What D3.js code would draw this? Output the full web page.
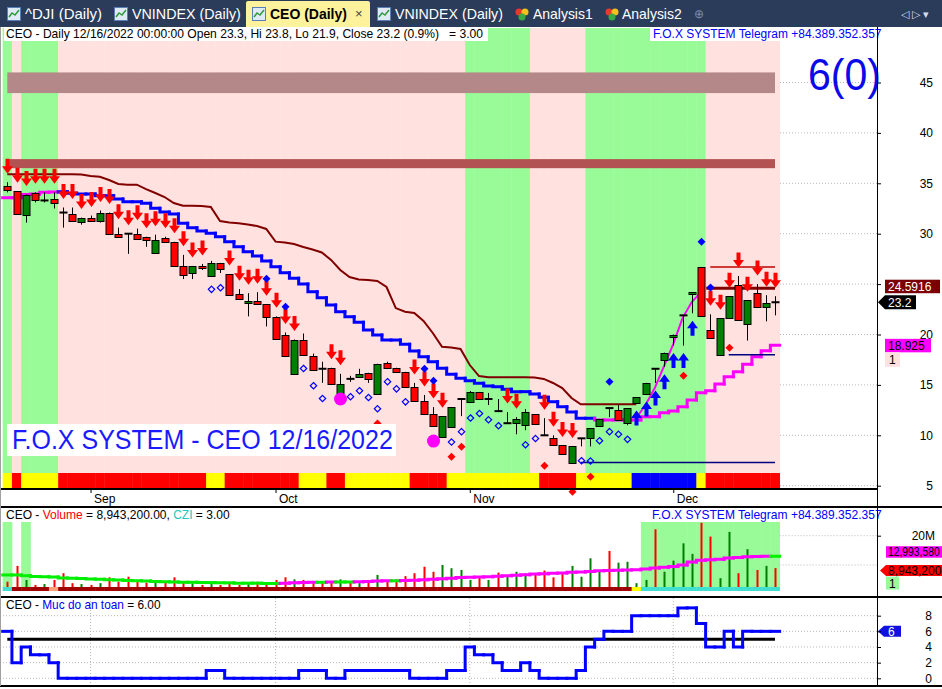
<!DOCTYPE html>
<html>
<head>
<meta charset="utf-8">
<script src="https://cdn.jsdelivr.net/npm/d3@7"></script>
<style>
  body { margin: 0; background: #fff; }
  svg { display: block; font-family: "Liberation Sans", Arial, sans-serif; }
  text { white-space: pre; }
</style>
</head>
<body>
<svg></svg>
<script>
var dates = [
  '2022-08-19','2022-08-22','2022-08-23','2022-08-24','2022-08-25','2022-08-26','2022-08-29','2022-08-30','2022-08-31',
  '2022-09-05','2022-09-06','2022-09-07','2022-09-08','2022-09-09','2022-09-12','2022-09-13','2022-09-14','2022-09-15','2022-09-16',
  '2022-09-19','2022-09-20','2022-09-21','2022-09-22','2022-09-23','2022-09-26','2022-09-27','2022-09-28','2022-09-29','2022-09-30',
  '2022-10-03','2022-10-04','2022-10-05','2022-10-06','2022-10-07','2022-10-10','2022-10-11','2022-10-12','2022-10-13','2022-10-14',
  '2022-10-17','2022-10-18','2022-10-19','2022-10-20','2022-10-21','2022-10-24','2022-10-25','2022-10-26','2022-10-27','2022-10-28','2022-10-31',
  '2022-11-01','2022-11-02','2022-11-03','2022-11-04','2022-11-07','2022-11-08','2022-11-09','2022-11-10','2022-11-11',
  '2022-11-14','2022-11-15','2022-11-16','2022-11-17','2022-11-18','2022-11-21','2022-11-22','2022-11-23','2022-11-24','2022-11-25',
  '2022-11-28','2022-11-29','2022-11-30',
  '2022-12-01','2022-12-02','2022-12-05','2022-12-06','2022-12-07','2022-12-08','2022-12-09','2022-12-12','2022-12-13','2022-12-14',
  '2022-12-15','2022-12-16'
];
var monthTicks = ['2022-09-05', '2022-10-03', '2022-11-01', '2022-12-01'];

var opens = [34.7,34.2,31.9,34.0,33.3,33.4,32.1,32.0,31.2,31.6,
  31.3,32.1,30.0,30.0,30.0,29.7,28.1,29.6,29.2,26.8,
  26.1,26.8,25.8,27.1,26.0,24.0,23.1,23.3,23.0,21.7,
  20.0,16.1,19.5,17.9,16.6,16.7,14.2,15.6,15.8,16.2,
  14.1,17.2,16.7,16.3,14.8,13.4,12.1,9.8,10.8,13.6,
  13.3,14.3,13.6,12.4,11.2,11.2,11.0,12.1,10.0,9.7,
  9.0,7.3,9.7,9.7,10.9,12.7,12.5,11.2,13.2,14.1,
  16.6,17.5,19.8,21.9,24.0,26.7,20.4,18.0,21.6,24.9,
  21.0,24.1,22.7,23.3];
var highs = [35.1,34.2,33.9,34.1,34.1,34.1,32.6,32.6,31.6,31.8,
  32.3,32.1,30.6,30.0,30.5,29.7,29.9,29.7,29.2,27.9,
  26.8,27.0,27.3,27.1,26.0,24.5,24.1,24.2,23.0,21.8,
  20.2,19.5,20.1,18.1,17.3,16.7,16.1,15.9,16.6,16.2,
  17.1,17.3,16.7,16.3,15.2,14.0,12.8,11.9,12.8,13.6,
  14.4,14.3,14.2,13.6,12.3,11.8,12.6,12.1,11.7,10.0,
  9.0,8.9,9.7,10.7,11.6,12.7,13.0,12.7,13.8,15.2,
  16.6,18.2,20.0,21.9,24.2,26.7,22.0,21.6,23.8,25.8,
  23.4,25.0,23.9,23.8];
var lows = [34.1,31.9,31.1,33.1,33.1,32.5,30.6,31.3,30.9,31.3,
  31.1,30.0,29.7,28.0,29.5,28.7,28.1,29.2,26.8,25.5,
  25.5,26.4,25.8,26.1,23.9,23.5,21.8,23.0,20.8,19.6,
  17.9,16.1,18.0,16.5,15.2,15.1,14.2,15.3,15.8,15.2,
  14.1,16.7,16.2,14.8,13.4,12.1,10.9,9.8,10.8,11.9,
  13.2,13.6,13.0,12.4,11.2,10.1,10.5,11.1,10.0,9.0,
  8.1,7.3,8.9,8.9,10.9,11.8,11.5,11.0,13.2,14.1,
  15.2,16.8,18.9,18.9,22.1,21.8,19.7,18.0,21.6,21.4,
  19.4,22.7,21.3,21.9];
var closes = [34.3,32.0,33.8,33.3,33.3,33.0,32.1,31.3,31.6,31.3,
  32.1,30.0,29.7,30.0,29.5,29.4,29.4,29.2,26.8,25.9,
  26.8,26.6,27.1,26.5,23.9,23.5,23.3,23.0,21.7,19.6,
  17.9,19.5,18.0,16.5,16.6,15.1,15.1,15.6,16.1,15.6,
  17.1,16.7,16.3,14.8,13.4,12.1,10.9,11.9,12.8,13.6,
  14.3,13.6,13.6,12.4,11.2,11.6,12.3,11.1,10.0,9.0,
  8.1,8.9,9.7,10.7,11.6,12.7,11.5,12.7,13.8,15.2,
  16.6,18.2,20.0,21.9,24.2,21.8,19.7,21.6,23.8,21.4,
  23.4,22.7,23.1,23.2];

// volume in millions
var volume = [4.3,9.7,4.9,3.2,3.5,4.9,7.2,3.8,3.5,3.2,
  3.8,5.8,4.3,6.0,4.6,4.0,4.6,4.3,5.8,4.3,
  3.8,3.2,3.5,3.2,4.3,3.2,3.8,4.3,4.0,4.9,
  5.8,5.1,4.9,4.3,4.3,4.3,5.1,4.3,3.8,4.9,
  6.6,4.3,5.1,6.2,7.2,9.4,7.7,10.0,8.9,8.3,
  4.9,6.2,4.9,7.4,6.2,7.7,7.2,6.6,8.1,5.8,
  7.4,9.7,6.0,12.3,8.3,14.8,10.8,11.1,3.8,4.9,
  22.2,7.7,11.5,17.4,13.8,24.4,19.7,5.5,21.3,7.2,
  15.4,8.3,9.7,8.9432];
var volDir = ('rrgrgrrrgr' + 'grrrrrgrrr' + 'grgrrrgrrr' + 'rgrrrrgrgr' + 'grrrrrrggg' +
  'grgrgggrrr' + 'rggggrgggg' + 'rggggrrggr' + 'grgr').split('');
var volMA = [6.6,6.6,6.3,6.1,6.0,5.9,5.6,5.5,5.4,5.2,
  5.1,5.0,4.9,4.7,4.6,4.5,4.4,4.3,4.2,4.1,
  4.1,4.0,4.0,3.9,3.9,3.8,3.8,3.8,3.7,3.7,
  3.8,3.9,4.0,4.1,4.1,4.2,4.2,4.2,4.3,4.4,
  4.5,4.6,4.6,4.7,4.8,5.0,5.1,5.3,5.5,5.7,
  5.8,5.9,6.0,6.2,6.3,6.5,6.7,6.9,7.0,7.2,
  7.3,7.5,7.6,7.8,8.0,8.1,8.2,8.3,8.4,8.6,
  9.0,9.2,9.5,10.0,11.0,11.6,11.8,12.0,12.4,12.6,
  12.8,12.9,13.0,12.99358];

var zoneMain = [1,0,1,1,1,1,0,0,0,0, 0,0,0,0,0,0,0,0,0,0, 0,0,0,0,0,0,0,0,0,0,
  0,0,0,0,0,0,0,0,0,0, 0,0,0,0,0,0,0,0,0,0, 1,1,1,1,1,1,1,0,0,0,
  0,0,0,1,1,1,1,1,1,1, 1,1,1,1,1,1,0,0,0,0, 0,0,0,0];
var zoneVol = [1,0,1,0,0,0,0,0,0,0, 0,0,0,0,0,0,0,0,0,0, 0,0,0,0,0,0,0,0,0,0,
  0,0,0,0,0,0,0,0,0,0, 0,0,0,0,0,0,0,0,0,0, 0,0,0,0,0,0,0,0,0,0,
  0,0,0,0,0,0,0,0,0,1, 1,1,1,1,1,1,1,1,1,1, 1,1,1,1];
var strip = ('yryyyyrrrr' + 'rrrrrrrrrr' + 'rryyrrrrrr' + 'rryyyrryyy' + 'yyyyrrrryy' +
  'yyyyyyyyrr' + 'rryyyyyybb' + 'bbbbbyrrrr' + 'rrrr').split('');
var czi = ('cmmmmommmm' + 'mmmmmmmmmm' + 'mmmmmmmmmm' + 'mmmmmmmmmm' + 'mmmmmmmmmm' +
  'mmmmmmmmmm' + 'mmmmmmmmyc' + 'cccccccccc' + 'cccc').split('');

var trail = [35.89,35.89,35.89,35.89,35.89,35.89,35.89,35.89,35.87,35.72,
  35.65,35.33,34.93,34.86,34.86,34.43,34.04,33.64,33.04,32.78,
  32.78,32.75,32.65,31.26,31.11,31.03,30.91,30.76,30.47,29.21,
  29.13,28.98,28.68,28.43,28.14,27.4,26.4,25.7,25.46,25.41,
  25.31,24.71,22.62,22.26,22.13,21.34,20.15,18.79,18.71,18.56,
  16.97,15.88,15.75,15.75,15.75,15.75,15.75,15.73,15.59,15.19,
  14.69,13.7,13.07,13.07,13.07,13.07,13.07,13.07,13.07,null,
  null,null,null,null,null,null,24.5916,24.5916,24.5916,24.5916,
  24.5916,24.5916,24.5916,24.5916];
var stair = [33.57,33.57,33.9,33.94,34.1,34.13,34.17,34.01,33.94,33.94,
  33.77,33.77,33.44,33.17,33.17,33.02,32.52,32.15,31.95,31.03,
  30.6,30.27,30.04,29.7,29.21,28.71,28.21,27.79,27.29,26.73,
  26.13,25.58,25.01,24.25,23.65,22.93,22.26,21.77,21.21,20.45,
  19.95,19.45,19.45,19.03,18.36,17.8,17.3,16.65,16.05,15.66,
  15.42,15.16,14.89,14.82,14.56,14.33,14.33,14.1,13.77,13.33,
  12.84,12.31,11.69,11.69,11.52,11.52,11.52,11.52,11.52,11.85,
  11.85,12.24,12.41,12.84,13.5,14.23,14.42,15.09,15.81,16.31,
  17.04,17.8,18.39,18.925];
var stairColor = ('mmmmmm' + 'bbbbbbbbbbbbbbbbbbbbbbbbbbbbbbbbbbbbbbbbbbbbbbbbbbbbbbbbbb' + 'mmmmmmmmmmmmmmmmmmmm').split('');
var curvePts = [[68,11.72],[69,13.01],[70,14.69],[71,16.87],[72,19.05],[73,21.63],[74,23.22],[75,24.21]];
var resLevel = [76, 83, 26.7];
var supLevel = [78, 83, 18.0];
var lowLevel = [62, 83, 7.3];
var bands = [[43.95, 46.0], [36.5, 37.4]];

var sellIdx = [0,1,2,3,4,5,6,7,8,9,10,11,12,13,14,15,16,17,18,19,20,21,24,25,26,27,28,29,30,31,
  35,36,44,45,46,47,54,55,58,59,60,61,76,77,78,79,80,81,82,83];
var buyIdx = [68,69,70,71,72,73,74];
var hollowDia = [[22,24.48],[23,24.64],[32,16.63],[33,14.92],[34,13.65],[37,13.83],[38,14.42],[39,13.75],
  [40,12.63],[41,15.32],[42,14.61],[43,13.32],[48,9.33],[49,10.36],[50,11.72],[51,12.16],[52,11.54],
  [53,10.95],[56,9.06],[57,9.68],[62,7.48],[63,7.45],[64,9.46],[65,10.36],[66,10.1],[67,9.6]];
var blueDia = [[28,25.54],[30,22.75],[45,16.6],[46,15.41],[65,15.31],[75,29.2],[76,24.66]];
var redDia = [[40,11.17],[48,7.88],[49,8.87],[58,6.98],[61,4.39],[63,5.89],[73,15.91],[78,18.69]];
var bigDots = [[36,13.6],[46,9.43]];

var safety = [6,2,4,3,3,2,0,0,0,0, 0,0,0,0,0,0,0,0,0,0, 0,0,1,1,0,0,0,0,0,0,
  0,0,1,1,1,0,0,1,1,1, 1,1,1,1,0,0,0,0,1,1, 4,3,3,2,1,1,2,1,0,0,
  0,0,1,4,5,6,6,6,8,8, 8,8,8,9,9,7,4,4,6,4, 6,6,6,6];
var safetyLevel = 5;

var priceTicks = [5, 10, 15, 20, 25, 30, 35, 40, 45];
var safetyTicks = [0, 2, 4, 6, 8];

(function () {
  var width = 942, height = 689;
  var svg = d3.select('svg').attr('width', width).attr('height', height);
  var n = dates.length;
  var axisX = 877;
  var pink = '#ffe2df', green = '#98fb98';

  var x = d3.scalePoint().domain(dates).range([7.3, 775]);
  var step = x.step();
  var y = d3.scaleLinear().domain([5, 45]).range([485.7, 82.5]);
  var yv = d3.scaleLinear().domain([0, 20]).range([594.3, 535.7]);
  var ys = d3.scaleLinear().domain([0, 8]).range([678.3, 615.7]);
  var lastRight = x(dates[n - 1]) + step / 2;
  function px(i) { return Math.round(x(dates[i])) + 0.5; }

  function fitText(t, x0, w) {
    var cur = t.node().getBBox().width;
    t.attr('transform', 'translate(' + x0 + ',0) scale(' + (w / cur) + ',1) translate(' + (-x0) + ',0)');
    return t;
  }
  function textParts(g, x0, yb, size, parts, w) {
    var t = g.append('text').attr('x', x0).attr('y', yb).attr('font-size', size);
    parts.forEach(function (p) { t.append('tspan').attr('fill', p[1]).text(p[0]); });
    if (w) fitText(t, x0, w);
    return t;
  }
  function stairs(g, vals, sc, colorOf, w) {
    vals.forEach(function (v, i) {
      if (v == null) return;
      var xl = x(dates[i]) - step / 2, xr = xl + step;
      var prev = i > 0 ? vals[i - 1] : null;
      var d = prev != null ? 'M' + xl + ',' + sc(prev) + 'V' + sc(v) : 'M' + xl + ',' + sc(v);
      g.append('path').attr('d', d + 'H' + xr).attr('fill', 'none')
        .attr('stroke', colorOf(i)).attr('stroke-width', w).attr('stroke-linecap', 'square');
    });
  }

  // ---- tab bar ----
  svg.append('rect').attr('width', width).attr('height', 27).attr('fill', '#2b3b5a');
  svg.append('path').attr('d', 'M246,27V3Q246,1 248,1H368Q370,1 370,3V27Z').attr('fill', '#fff29d');
  var tabs = [
    {label: '^DJI (Daily)', ix: 7, tx: 25, w: 77, icon: 'chart'},
    {label: 'VNINDEX (Daily)', ix: 114, tx: 132, w: 109, icon: 'chart'},
    {label: 'CEO (Daily)', ix: 252, tx: 270, w: 77, icon: 'chart', active: true},
    {label: 'VNINDEX (Daily)', ix: 377, tx: 395, w: 108, icon: 'chart'},
    {label: 'Analysis1', ix: 515, tx: 533, w: 60, icon: 'ana'},
    {label: 'Analysis2', ix: 605, tx: 622, w: 60, icon: 'ana'}
  ];
  tabs.forEach(function (t) {
    var g = svg.append('g');
    if (t.icon === 'chart') {
      g.append('rect').attr('x', t.ix + 0.5).attr('y', 7.5).attr('width', 13).attr('height', 13)
        .attr('fill', '#dfeaf7').attr('stroke', '#5a7fb8');
      g.append('path').attr('d', 'M' + (t.ix + 2) + ',17L' + (t.ix + 5) + ',13L' + (t.ix + 8) + ',15L' + (t.ix + 12) + ',10')
        .attr('fill', 'none').attr('stroke', '#2e9a3a').attr('stroke-width', 1.5);
    } else {
      g.append('circle').attr('cx', t.ix + 4).attr('cy', 12).attr('r', 3.5).attr('fill', '#e83a2a');
      g.append('circle').attr('cx', t.ix + 10).attr('cy', 12).attr('r', 3.5).attr('fill', '#f2c21b');
      g.append('circle').attr('cx', t.ix + 7).attr('cy', 17).attr('r', 3.5).attr('fill', '#3aa844');
    }
    var tt = g.append('text').attr('x', t.tx).attr('y', 19).attr('font-size', 14)
      .attr('fill', t.active ? '#000' : '#fff').attr('font-weight', t.active ? 'bold' : 'normal').text(t.label);
    fitText(tt, t.tx, t.w);
  });
  svg.append('text').attr('x', 355).attr('y', 18).attr('font-size', 13).attr('fill', '#444').text('\u00d7');
  svg.append('text').attr('x', 694).attr('y', 18).attr('font-size', 12).attr('fill', '#7e8ca6').text('\u2295');
  svg.append('text').attr('x', 901).attr('y', 18).attr('font-size', 11).attr('fill', '#d8dee9').text('\u25c1 \u25b7 \u25be');

  // ---- main pane ----
  var gMain = svg.append('g');
  priceTicks.forEach(function (p) {
    gMain.append('line').attr('x1', 0).attr('x2', axisX).attr('y1', y(p)).attr('y2', y(p))
      .attr('stroke', '#b8b8b8').attr('stroke-dasharray', '1,2');
  });
  gMain.selectAll('.zone').data(dates).enter().append('rect')
    .attr('x', function (d) { return x(d) - step / 2; })
    .attr('y', 28).attr('width', step + 0.4).attr('height', 473 - 28)
    .attr('fill', function (d, i) { return zoneMain[i] ? green : pink; });
  var stripCol = {y: '#ffff00', r: '#ff0000', b: '#0000ff'};
  gMain.selectAll('.strip').data(dates).enter().append('rect')
    .attr('x', function (d) { return x(d) - step / 2; })
    .attr('y', 473).attr('width', step + 0.4).attr('height', 15)
    .attr('fill', function (d, i) { return stripCol[strip[i]]; });

  gMain.selectAll('.band').data(bands).enter().append('rect')
    .attr('x', x(dates[0])).attr('width', x(dates[n - 1]) - x(dates[0]))
    .attr('y', function (d) { return y(d[1]); })
    .attr('height', function (d) { return y(d[0]) - y(d[1]); })
    .attr('fill', function (d, i) { return i === 0 ? '#b48888' : '#b35252'; });

  var trailLine = d3.line()
    .defined(function (d) { return d != null; })
    .x(function (d, i) { return x(dates[i]); })
    .y(function (d) { return y(d); });
  gMain.append('path').attr('d', trailLine(trail.slice(0, 69))).attr('fill', 'none')
    .attr('stroke', '#800000').attr('stroke-width', 2);

  stairs(gMain, stair, y, function (i) { return stairColor[i] === 'b' ? '#0000ff' : '#ff00ff'; }, 3);

  var curveLine = d3.line().x(function (d) { return x(dates[d[0]]); }).y(function (d) { return y(d[1]); });
  gMain.append('path').attr('d', curveLine(curvePts)).attr('fill', 'none')
    .attr('stroke', '#ff00ff').attr('stroke-width', 2);

  function level(l, color, w) {
    gMain.append('line').attr('x1', x(dates[l[0]])).attr('x2', x(dates[l[1]]))
      .attr('y1', y(l[2])).attr('y2', y(l[2])).attr('stroke', color).attr('stroke-width', w);
  }
  level(lowLevel, '#000080', 1.5);
  level(supLevel, '#000080', 1.5);
  level(resLevel, '#c00000', 1.5);
  gMain.append('line').attr('x1', x(dates[76]) - 4).attr('x2', x(dates[83]))
    .attr('y1', y(trail[83])).attr('y2', y(trail[83])).attr('stroke', '#800000').attr('stroke-width', 3);

  // candles
  var gC = gMain.append('g');
  dates.forEach(function (d, i) {
    var cx = px(i), o = opens[i], c = closes[i];
    gC.append('line').attr('x1', cx).attr('x2', cx).attr('y1', y(highs[i])).attr('y2', y(lows[i]))
      .attr('stroke', '#000').attr('stroke-width', 1);
    if (Math.abs(o - c) < 0.15) {
      gC.append('line').attr('x1', cx - 4).attr('x2', cx + 4).attr('y1', y(c)).attr('y2', y(c))
        .attr('stroke', '#000').attr('stroke-width', 2);
    } else {
      var top = Math.round(y(Math.max(o, c))) + 0.5, bot = Math.round(y(Math.min(o, c))) + 0.5;
      gC.append('rect').attr('x', cx - 3.5).attr('y', top).attr('width', 7).attr('height', bot - top)
        .attr('fill', c > o ? '#008000' : '#ff0000').attr('stroke', '#000').attr('stroke-width', 1);
    }
  });

  // signals
  var gS = gMain.append('g');
  sellIdx.forEach(function (i) {
    var tx = px(i), ty = y(highs[i]) - 8.5;
    gS.append('path').attr('d', 'M' + tx + ',' + ty + 'l-5.5,-7.5h3.5v-7.5h4v7.5h3.5z').attr('fill', '#ff0000');
  });
  buyIdx.forEach(function (i) {
    var tx = px(i), ty = y(lows[i]) + 7.5;
    gS.append('path').attr('d', 'M' + tx + ',' + ty + 'l-5.5,7.5h3.5v7.5h4v-7.5h3.5z').attr('fill', '#0000ff');
  });
  function dia(r) { return 'M0,' + (-r) + 'L' + r + ',0L0,' + r + 'L' + (-r) + ',0Z'; }
  hollowDia.forEach(function (p) {
    gS.append('path').attr('d', dia(3.2)).attr('transform', 'translate(' + px(p[0]) + ',' + y(p[1]) + ')')
      .attr('fill', 'none').attr('stroke', '#0000ff').attr('stroke-width', 1.2);
  });
  blueDia.forEach(function (p) {
    gS.append('path').attr('d', dia(4)).attr('transform', 'translate(' + px(p[0]) + ',' + y(p[1]) + ')').attr('fill', '#0000ff');
  });
  redDia.forEach(function (p) {
    gS.append('path').attr('d', dia(4)).attr('transform', 'translate(' + px(p[0]) + ',' + y(p[1]) + ')').attr('fill', '#ff0000');
  });
  bigDots.forEach(function (p) {
    gS.append('circle').attr('cx', px(p[0])).attr('cy', y(p[1])).attr('r', 6.5).attr('fill', '#ff00ff');
  });

  // titles
  gMain.append('rect').attr('x', 4).attr('y', 28).attr('width', 484).attr('height', 13).attr('fill', '#fff');
  textParts(gMain, 6, 38.5, 12, [['CEO - Daily 12/16/2022 00:00:00 Open 23.3, Hi 23.8, Lo 21.9, Close 23.2 (0.9%)   = 3.00', '#000']], 478);
  gMain.append('rect').attr('x', 650).attr('y', 28).attr('width', 227).attr('height', 13).attr('fill', '#fff');
  textParts(gMain, 653, 38.5, 12, [['F.O.X SYSTEM Telegram +84.389.352.357', '#0000ff']], 229);
  textParts(gMain, 808, 90, 44, [['6(0)', '#0a0ae8']], 73);
  gMain.append('rect').attr('x', 7).attr('y', 424).attr('width', 389).attr('height', 32).attr('fill', '#fff');
  textParts(gMain, 12, 449, 27, [['F.O.X SYSTEM - CEO 12/16/2022', '#1a1aff']], 381);

  // price axis (the 25 label sits under the stop-value tag, as in the source)
  var yAxis = svg.append('g').attr('transform', 'translate(' + axisX + ',0)')
    .call(d3.axisRight(y).tickValues(priceTicks).tickSize(4).tickFormat(d3.format('d')));
  yAxis.select('.domain').remove();
  yAxis.attr('font-size', 12).attr('font-family', null);
  yAxis.selectAll('text').attr('x', 56).style('text-anchor', 'end');
  yAxis.selectAll('.tick').filter(function (d) { return d === 25; }).select('text').remove();

  var gL = svg.append('g').attr('font-size', 12);
  var yt = y(trail[83]) - 2;
  gL.append('rect').attr('x', 885).attr('y', yt - 6.5).attr('width', 55).attr('height', 13.5).attr('fill', '#7a0000');
  gL.append('text').attr('x', 888).attr('y', yt + 4.5).attr('fill', '#fff').text(String(trail[83]));
  var yc = y(closes[n - 1]);
  gL.append('path').attr('d', 'M878,' + yc + 'L885,' + (yc - 7) + 'H916V' + (yc + 7) + 'H885Z').attr('fill', '#000');
  gL.append('text').attr('x', 888).attr('y', yc + 4.5).attr('fill', '#fff').text(String(closes[n - 1]));
  var ym = y(stair[n - 1]);
  gL.append('rect').attr('x', 885).attr('y', ym - 6.5).attr('width', 46).attr('height', 13.5).attr('fill', '#ff00ff');
  gL.append('text').attr('x', 888).attr('y', ym + 4.5).attr('fill', '#000').text(String(stair[n - 1]));
  gL.append('rect').attr('x', 885).attr('y', ym + 7).attr('width', 15).attr('height', 14.5).attr('fill', '#ffe2df');
  gL.append('text').attr('x', 889).attr('y', ym + 18.5).attr('fill', '#000').text('1');

  // date axis
  var parse = d3.timeParse('%Y-%m-%d'), fmt = d3.timeFormat('%b');
  var xAxis = svg.append('g').attr('transform', 'translate(0,489)')
    .call(d3.axisBottom(x).tickValues(monthTicks).tickSize(4).tickFormat(function (d) { return fmt(parse(d)); }));
  xAxis.select('.domain').remove();
  xAxis.attr('font-size', 12).attr('font-family', null);
  xAxis.selectAll('text').attr('x', 3).attr('y', 5).style('text-anchor', 'start');

  // ---- volume pane ----
  var gV = svg.append('g');
  [10, 20].forEach(function (v) {
    gV.append('line').attr('x1', lastRight).attr('x2', axisX).attr('y1', yv(v)).attr('y2', yv(v))
      .attr('stroke', '#b8b8b8').attr('stroke-dasharray', '1,2');
  });
  dates.forEach(function (d, i) {
    if (zoneVol[i]) {
      gV.append('rect').attr('x', x(d) - step / 2).attr('y', 522).attr('width', step + 0.4).attr('height', 66).attr('fill', green);
    }
  });
  gV.selectAll('.vol').data(volume).enter().append('rect')
    .attr('x', function (d, i) { return px(i) - 1; })
    .attr('y', function (d) { return yv(d); })
    .attr('width', 2)
    .attr('height', function (d) { return 588 - yv(d); })
    .attr('fill', function (d, i) { return volDir[i] === 'g' ? '#008000' : '#ff0000'; });
  var cziCol = {c: '#40e0d0', m: '#a00000', o: '#ffa07a', y: '#ffff00'};
  gV.selectAll('.czi').data(dates).enter().append('rect')
    .attr('x', function (d) { return x(d) - step / 2; })
    .attr('y', 587).attr('width', step + 0.4).attr('height', 4)
    .attr('fill', function (d, i) { return cziCol[czi[i]]; });
  stairs(gV, volMA, yv, function (i) { return i > 0 && volMA[i] > volMA[i - 1] ? '#ff00ff' : '#00ee00'; }, 3);

  gV.append('rect').attr('x', 4).attr('y', 509).attr('width', 228).attr('height', 13).attr('fill', '#fff');
  textParts(gV, 6, 519.5, 12, [['CEO - ', '#000'], ['Volume', '#ff0000'], [' = 8,943,200.00, ', '#000'], ['CZI', '#20c8c0'], [' = 3.00', '#000']], 224);
  gV.append('rect').attr('x', 650).attr('y', 509).attr('width', 227).attr('height', 13).attr('fill', '#fff');
  textParts(gV, 652, 519.5, 12, [['F.O.X SYSTEM Telegram +84.389.352.357', '#0000ff']], 230);

  var vAxis = svg.append('g').attr('transform', 'translate(' + axisX + ',0)')
    .call(d3.axisRight(yv).tickValues([20]).tickSize(4).tickFormat(function (d) { return d + 'M'; }));
  vAxis.select('.domain').remove();
  vAxis.attr('font-size', 12).attr('font-family', null);
  vAxis.selectAll('text').attr('x', 58).style('text-anchor', 'end');
  var yma = yv(volMA[n - 1]) - 4.5;
  gL.append('rect').attr('x', 886).attr('y', yma - 5.5).attr('width', 60).attr('height', 11.5).attr('fill', '#ff00ff');
  var maText = gL.append('text').attr('x', 888).attr('y', yma + 4.5).attr('fill', '#000').text(d3.format(',.0f')(volMA[n - 1] * 1e6));
  fitText(maText, 888, 52);
  var yvl = yv(volume[n - 1]) + 2.5;
  gL.append('path').attr('d', 'M880,' + yvl + 'L886,' + (yvl - 5.5) + 'H946V' + (yvl + 5.5) + 'H886Z').attr('fill', '#ff0000');
  gL.append('text').attr('x', 888).attr('y', yvl + 4.5).attr('fill', '#000').text(d3.format(',')(Math.round(volume[n - 1] * 1e6)));
  gL.append('rect').attr('x', 886).attr('y', yvl + 6).attr('width', 13).attr('height', 13).attr('fill', green);
  gL.append('text').attr('x', 889).attr('y', yvl + 17).attr('fill', '#000').text('1');

  // ---- safety pane ----
  var gB = svg.append('g');
  safetyTicks.forEach(function (v) {
    gB.append('line').attr('x1', 0).attr('x2', axisX).attr('y1', ys(v)).attr('y2', ys(v))
      .attr('stroke', '#b8b8b8').attr('stroke-dasharray', '1,2');
  });
  monthTicks.forEach(function (d) {
    gB.append('line').attr('x1', x(d)).attr('x2', x(d)).attr('y1', 598).attr('y2', 685)
      .attr('stroke', '#b8b8b8').attr('stroke-dasharray', '1,2');
  });
  gB.append('line').attr('x1', x(dates[0])).attr('x2', x(dates[n - 1]))
    .attr('y1', ys(safetyLevel)).attr('y2', ys(safetyLevel)).attr('stroke', '#000').attr('stroke-width', 3);
  stairs(gB, safety, ys, function () { return '#0000ff'; }, 3);
  textParts(gB, 6, 609.5, 12, [['CEO - ', '#000'], ['Muc do an toan', '#0000ff'], [' = 6.00', '#000']], 155);

  var sAxis = svg.append('g').attr('transform', 'translate(' + axisX + ',0)')
    .call(d3.axisRight(ys).tickValues(safetyTicks).tickSize(4).tickFormat(d3.format('d')));
  sAxis.select('.domain').remove();
  sAxis.attr('font-size', 12).attr('font-family', null);
  sAxis.selectAll('text').attr('x', 55).style('text-anchor', 'end');
  var ysl = ys(safety[n - 1]);
  gL.append('path').attr('d', 'M878,' + ysl + 'L884,' + (ysl - 5.5) + 'H901V' + (ysl + 5.5) + 'H884Z').attr('fill', '#1010e0');
  gL.append('text').attr('x', 888).attr('y', ysl + 4.5).attr('fill', '#fff').text(String(safety[n - 1]));

  // frame lines
  var gF = svg.append('g').attr('stroke', '#000');
  gF.append('line').attr('x1', 0).attr('x2', axisX).attr('y1', 489).attr('y2', 489).attr('stroke-width', 2);
  gF.append('line').attr('x1', 0).attr('x2', width).attr('y1', 507).attr('y2', 507).attr('stroke-width', 2);
  gF.append('line').attr('x1', 0).attr('x2', width).attr('y1', 597).attr('y2', 597).attr('stroke-width', 2);
  gF.append('line').attr('x1', 0).attr('x2', width).attr('y1', 686).attr('y2', 686).attr('stroke-width', 2);
  gF.append('line').attr('x1', axisX + 0.5).attr('x2', axisX + 0.5).attr('y1', 27).attr('y2', 686).attr('stroke-width', 1);
  gF.append('line').attr('x1', 0.5).attr('x2', 0.5).attr('y1', 27).attr('y2', 686).attr('stroke', '#a0a0a0');
})();
</script>
</body>
</html>
